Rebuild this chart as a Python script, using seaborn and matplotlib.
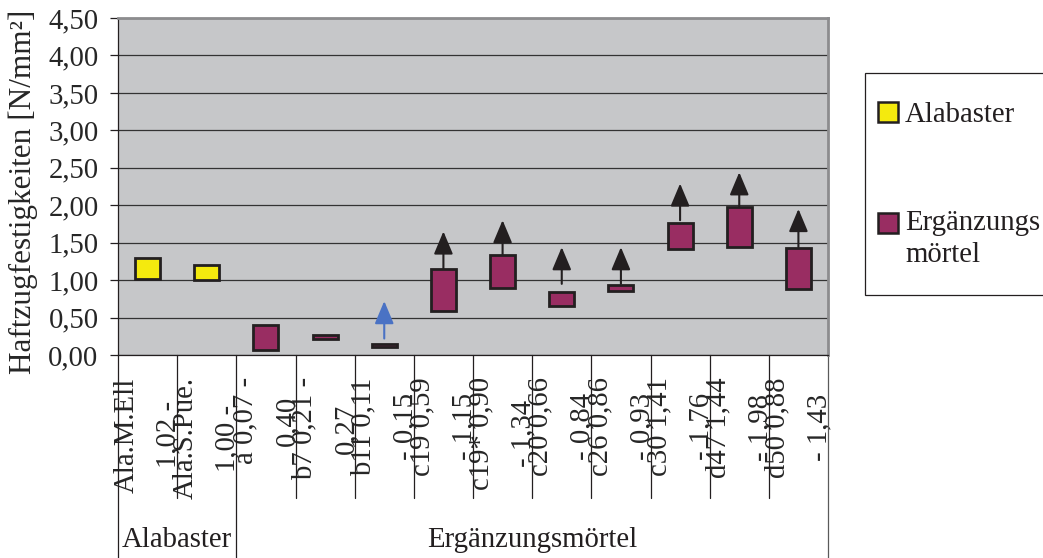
import matplotlib
matplotlib.use("Agg")
import matplotlib.pyplot as plt
import matplotlib.patches as mpatches
import matplotlib.transforms as mtransforms
from matplotlib.ticker import FuncFormatter, MultipleLocator
import pandas as pd
import seaborn as sns

# Probenbezeichnungen mit Messbereich
tick_labels = [
    "Ala.M.Ell\n1,02 -", "Ala.S.Pue.\n1,00 -", "a 0,07 -\n0,40", "b7 0,21 -\n0,27",
    "b11 0,11\n- 0,15", "c19 0,59\n- 1,15", "c19* 0,90\n- 1,34", "c20 0,66\n- 0,84",
    "c26 0,86\n- 0,93", "c30 1,41\n- 1,76", "d47 1,44\n- 1,98", "d50 0,88\n- 1,43",
]
groups = ["Alabaster"] * 2 + ["Ergänzungsmörtel"] * 10

# Haftzugfestigkeiten [N/mm²]: untere und obere Grenze
low = [1.02, 1.00, 0.07, 0.21, 0.11, 0.59, 0.90, 0.66, 0.86, 1.41, 1.44, 0.88]
high = [1.30, 1.20, 0.40, 0.27, 0.15, 1.15, 1.34, 0.84, 0.93, 1.76, 1.98, 1.43]

# Pfeile: mögliche höhere Werte
arrow_from = [None, None, None, None, 0.22, 1.15, 1.34, 0.95, 0.95, 1.80, 1.98, 1.44]
arrow_to = [None, None, None, None, 0.72, 1.65, 1.80, 1.44, 1.44, 2.29, 2.44, 1.95]
arrow_kind = [None, None, None, None, "blau", "schwarz", "schwarz", "schwarz",
              "schwarz", "schwarz", "schwarz", "schwarz"]

group_names = ["Alabaster", "Ergänzungsmörtel"]
legend_labels = ["Alabaster", "Ergänzungs\nmörtel"]

colors = {"Alabaster": "#f4ea0e", "Ergänzungsmörtel": "#992d62"}
arrow_colors = {"blau": "#4a72c4", "schwarz": "#231f20"}
edge = "#231f20"
FS = 20.7

sns.set_theme(style="white")
plt.rcParams["font.family"] = ["Liberation Serif", "DejaVu Serif"]
plt.rcParams["font.size"] = FS
plt.rcParams["text.color"] = "#231f20"

df = pd.DataFrame({"label": tick_labels, "group": groups, "low": low, "high": high})
df["span"] = df["high"] - df["low"]

W, H = 1043, 558
fig = plt.figure(figsize=(W / 100, H / 100), dpi=100)
ax = fig.add_axes([118 / W, 1 - 355 / H, 710 / W, 337 / H])
ax.set_facecolor("#c6c7c9")

for grp in group_names:
    sub = df[df["group"] == grp]
    sns.barplot(data=sub, x="label", y="span", order=tick_labels,
                bottom=sub["low"].to_numpy(), color=colors[grp], saturation=1,
                width=0.42, edgecolor=edge, linewidth=2.0, errorbar=None, ax=ax,
                zorder=3)

# Pfeile über den Balken
for i, (a0, a1, kind) in enumerate(zip(arrow_from, arrow_to, arrow_kind)):
    if a0 is None:
        continue
    ax.annotate("", xy=(i, a1), xytext=(i, a0),
                arrowprops=dict(arrowstyle="-|>,head_length=1.0,head_width=0.42",
                                mutation_scale=14, color=arrow_colors[kind],
                                lw=1.5, shrinkA=0, shrinkB=0),
                zorder=4)

ax.set_xlim(-0.5, len(tick_labels) - 0.5)
ax.set_ylim(0, 4.5)
ax.yaxis.set_major_locator(MultipleLocator(0.5))
ax.yaxis.set_major_formatter(FuncFormatter(lambda v, p: f"{v:.2f}".replace(".", ",")))
ax.yaxis.grid(True, color="#333333", lw=0.9)
ax.set_axisbelow(True)

ax.set_xticks(range(len(tick_labels)))
ax.set_xticklabels(tick_labels, rotation=90, ha="center", va="top", linespacing=1.8)
ax.tick_params(axis="x", length=0, pad=16, labelsize=FS)
ax.tick_params(axis="y", length=6, width=0.9, color="#231f20", pad=8, labelsize=FS,
               left=True)
ax.set_xlabel("")
ax.set_ylabel("Haftzugfestigkeiten [N/mm²]", fontsize=22.5)
ax.yaxis.set_label_coords(-0.112, 0.484)

for side in ["left", "bottom"]:
    ax.spines[side].set_color("#231f20")
    ax.spines[side].set_linewidth(0.9)
for side in ["top", "right"]:
    ax.spines[side].set_color("#8c8c8e")
    ax.spines[side].set_linewidth(2.0)

# Trennlinien der Kategorieachse
blend = mtransforms.blended_transform_factory(ax.transData, ax.transAxes)
n = len(tick_labels)
group_bounds = [-0.5]
for k in range(1, n):
    if groups[k] != groups[k - 1]:
        group_bounds.append(k - 0.5)
group_bounds.append(n - 0.5)
for k in range(n + 1):
    b = k - 0.5
    bottom = -0.61 if b in group_bounds else -0.424
    ax.plot([b, b], [0, bottom], transform=blend, clip_on=False,
            color="#231f20" if k < n else "#5a5a5a", lw=0.9)

# Gruppenbeschriftung
for g0, g1, name in zip(group_bounds[:-1], group_bounds[1:], group_names):
    ax.text((g0 + g1) / 2, -0.549, name, transform=blend, ha="center", va="center",
            fontsize=FS)

# Legende
fig.patches.append(mpatches.Rectangle((865 / W, 1 - 295 / H), 0.3, 222 / H,
                                      transform=fig.transFigure, facecolor="white",
                                      edgecolor="#231f20", lw=0.9))
for (ytop, ybase), grp, lab in zip([(102, 122), (213, 262)], group_names, legend_labels):
    fig.patches.append(mpatches.Rectangle((878 / W, 1 - (ytop + 20) / H), 20 / W, 20 / H,
                                          transform=fig.transFigure,
                                          facecolor=colors[grp], edgecolor=edge, lw=1.8))
    fig.text(905 / W, 1 - ybase / H, lab, ha="left", va="baseline", fontsize=FS,
             linespacing=1.3)

fig.savefig("out.png", dpi=100)
